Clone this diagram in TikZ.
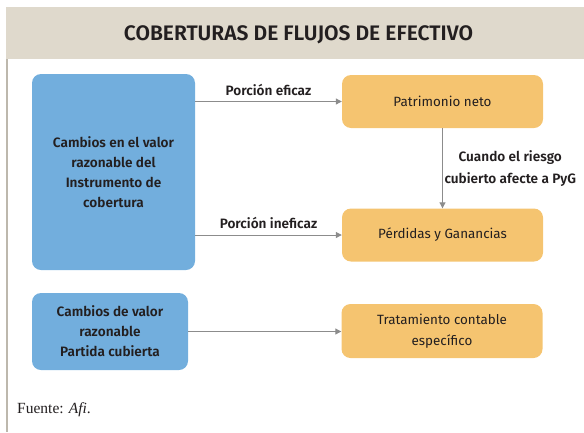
\documentclass[tikz,border=0pt]{standalone}
\usepackage{fontspec}
\setsansfont{Fira Sans}[BoldFont={Fira Sans SemiBold}]
\newfontfamily\fuentefam{Liberation Serif}
\usetikzlibrary{arrows.meta,positioning}

\definecolor{azulcaja}{HTML}{72AEDD}
\definecolor{naranjacaja}{HTML}{F5C470}
\definecolor{beige}{HTML}{DFD9CC}
\definecolor{grisflecha}{HTML}{8C8C8C}
\definecolor{texto}{HTML}{231F20}

\begin{document}
\begin{tikzpicture}[x=1pt, y=-1pt,
		every node/.style={text=texto},
		caja/.style={rounded corners=9pt, inner sep=0pt, align=center,
			font=\sffamily\fontsize{13.4}{20.5}\selectfont},
		caja azul/.style={caja, fill=azulcaja,
			font=\sffamily\bfseries\fontsize{13.6}{20}\selectfont},
		caja naranja/.style={caja, fill=naranjacaja, minimum width=201pt, minimum height=53pt},
		flecha/.style={draw=grisflecha, line width=1pt, -{Triangle[length=6pt, width=6pt]}},
		etiqueta/.style={font=\sffamily\bfseries\fontsize{13.6}{22}\selectfont, align=center},
	]

\useasboundingbox (0,0) rectangle (584,432);

% cabecera
\fill[beige] (6,7) rectangle (584,59);
\draw[beige!85!black, line width=1.2pt] (7,59) -- (7,432);
\node[font=\sffamily\bfseries\fontsize{21}{22}\selectfont] (titulo) at (298.5,34.5) {COBERTURAS DE FLUJOS DE EFECTIVO};

% cajas
\node[caja azul, minimum width=163pt, minimum height=196pt] (cambios) at (113.5,172) {Cambios en el valor\\razonable del\\Instrumento de\\cobertura};
\node[caja naranja] (patrimonio) at (442.5,101.5) {Patrimonio neto};
\node[caja naranja] (pyg) at (442.5,235) {Pérdidas y Ganancias};
\node[caja azul, minimum width=156pt, minimum height=77pt] (partida) at (110,331.5) {Cambios de valor\\razonable\\Partida cubierta};
\node[caja naranja, minimum height=54pt] (tratamiento) at (442,331) {Tratamiento contable\\específico};

% flechas
\draw[flecha] (cambios.east |- patrimonio.west) -- (patrimonio.west)
	node[midway, above=2pt, etiqueta] (eficaz) {Porción eficaz};
\draw[flecha] (cambios.east |- pyg.west) -- (pyg.west)
	node[midway, above=2pt, etiqueta] (ineficaz) {Porción ineficaz};
\draw[flecha] (patrimonio.south) -- (pyg.north)
	node[midway, right, inner sep=1.5pt, etiqueta] (riesgo) {Cuando el riesgo\\cubierto afecte a PyG};
\draw[flecha] (partida.east) -- (tratamiento.west |- partida.east);

\node[anchor=base west, inner sep=0pt, font=\fuentefam\fontsize{15.5}{17}\selectfont] (fuente) at (17,413) {Fuente: \textit{Afi}.};

\end{tikzpicture}
\end{document}
